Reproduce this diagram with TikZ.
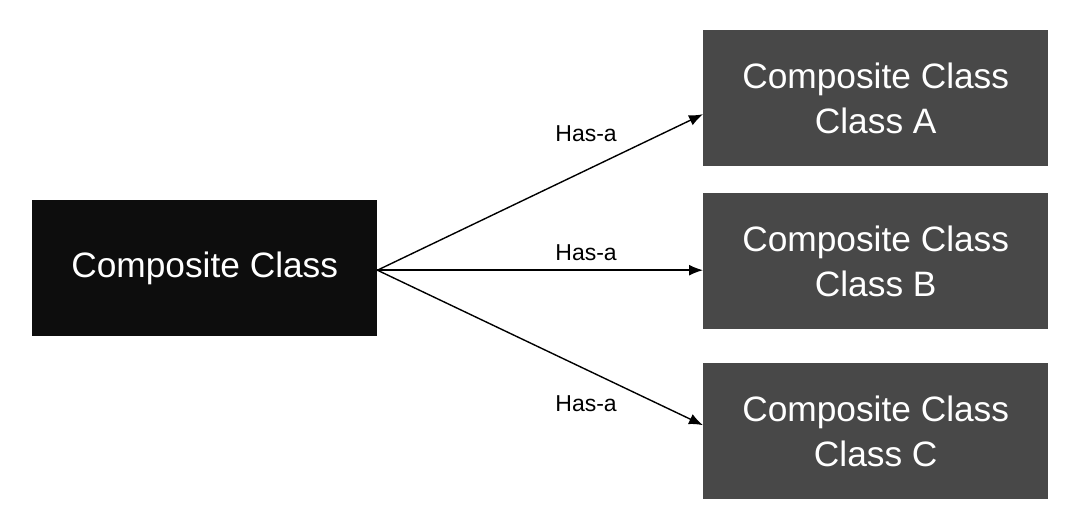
\documentclass[tikz,border=0pt]{standalone}
\usepackage{fontspec}
\setmainfont{Liberation Sans}
\usetikzlibrary{arrows.meta}
\definecolor{srcfill}{HTML}{0D0D0D}
\definecolor{dstfill}{HTML}{484848}
\tikzset{
  srcbox/.style={fill=srcfill, text=white, anchor=north west, inner sep=0pt,
    minimum width=345pt, minimum height=136pt, align=center,
    font=\fontsize{35.3}{45}\selectfont},
  dstbox/.style={fill=dstfill, text=white, anchor=north west, inner sep=0pt,
    minimum width=345pt, minimum height=136pt, align=center,
    font=\fontsize{35.3}{45}\selectfont},
  conn/.style={line width=1.4pt, -{Latex[length=14pt,width=11pt]}},
  lbl/.style={font=\fontsize{23}{27}\selectfont, text=black, inner sep=0pt}
}
\begin{document}
\begin{tikzpicture}[x=1pt,y=-1pt]
\useasboundingbox (0,0) rectangle (1078,526);
\node[srcbox] (src) at (32,200) {Composite Class};
\node[dstbox] (a) at (703,30) {Composite Class\\Class A};
\node[dstbox] (b) at (703,193) {Composite Class\\Class B};
\node[dstbox] (c) at (703,363) {Composite Class\\Class C};
\coordinate (s) at ([yshift=-2pt]src.east);
\draw[conn] (s) -- ([yshift=-16pt]a.west)
  node[lbl, pos=0.641, yshift=36pt] (la) {Has-a};
\draw[conn] (s) -- (b.west |- s)
  node[lbl, pos=0.641, yshift=17pt] (lb) {Has-a};
\draw[conn] (s) -- ([yshift=6pt]c.west)
  node[lbl, pos=0.641, yshift=-34pt] (lc) {Has-a};
\end{tikzpicture}
\end{document}
